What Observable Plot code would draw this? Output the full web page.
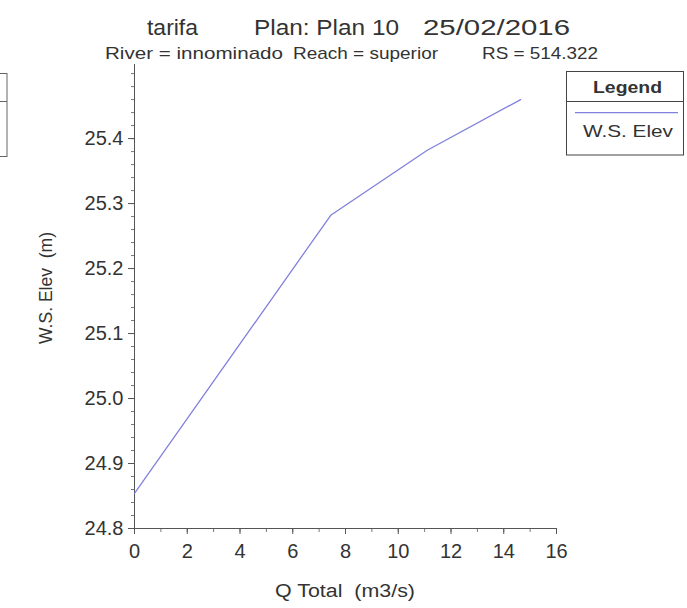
<!DOCTYPE html>
<html><head><meta charset="utf-8">
<script src="https://cdn.jsdelivr.net/npm/d3@7"></script>
<script src="https://cdn.jsdelivr.net/npm/@observablehq/plot@0.6"></script>
<style>
body{margin:0;background:#fff;font-family:"Liberation Sans",Arial,sans-serif;}
#wrap{position:relative;width:687px;height:608px;}
</style></head><body><div id="wrap"></div>
<script>
// Data
const qTotal = [0, 7.44, 11.1, 14.64];
const wsElev = [24.854, 25.282, 25.382, 25.46];
const xTicks = [0, 2, 4, 6, 8, 10, 12, 14, 16];
const yTicks = [24.8, 24.9, 25.0, 25.1, 25.2, 25.3, 25.4];
const titleParts = ["tarifa", "Plan: Plan 10", "25/02/2016"];
const subtitleParts = ["River = innominado", "Reach = superior", "RS = 514.322"];
const seriesName = "W.S. Elev";
const legendTitle = "Legend";
const xLabel = "Q Total  (m3/s)";
const yLabel = "W.S. Elev  (m)";

const data = qTotal.map((q, i) => ({q, ws: wsElev[i]}));
const yDomain = [24.8, 25.514];
const minorY = d3.ticks(24.8, 25.5, 35);
const minorX = d3.range(0, 17, 1);
const ink = "#333";
const axisInk = "#555";

const chart = Plot.plot({
  width: 687, height: 608,
  marginLeft: 134, marginRight: 131, marginTop: 64, marginBottom: 80,
  style: {fontFamily: '"Liberation Sans", Arial, sans-serif', fontSize: "20px", color: ink, background: "transparent"},
  x: {domain: [0, 16], label: null},
  y: {domain: yDomain, label: null},
  marks: [
    Plot.axisY(minorY, {tickSize: 3, text: null, stroke: "#777", label: null}),
    Plot.axisY(yTicks, {tickSize: 6, tickPadding: 5, tickFormat: d => d.toFixed(1), fontSize: 20, label: null, stroke: axisInk}),
    Plot.axisX(minorX, {tickSize: 4, text: null, stroke: "#777", label: null}),
    Plot.axisX(xTicks, {tickSize: 6, tickPadding: 9, fontSize: 20, label: null, stroke: axisInk}),
    Plot.ruleX([0], {stroke: axisInk}),
    Plot.ruleY([yDomain[0]], {stroke: axisInk}),
    Plot.line(data, {x: "q", y: "ws", stroke: "#8080dd", strokeWidth: 1.3})
  ]
});
document.getElementById("wrap").appendChild(chart);

const svg = d3.select(chart);
function txt(s, x, y, w, size, opts = {}) {
  const t = svg.append("text").attr("x", x).attr("y", y).text(s)
    .attr("font-size", size).attr("fill", ink)
    .attr("text-anchor", opts.anchor || "start")
    .attr("font-family", '"Liberation Sans", Arial, sans-serif');
  if (w) t.attr("textLength", w).attr("lengthAdjust", "spacingAndGlyphs");
  if (opts.weight) t.attr("font-weight", opts.weight);
  if (opts.transform) t.attr("transform", opts.transform);
  return t;
}
// Title & subtitle
const tPos = [[147, 51], [254, 145], [423, 147]];
titleParts.forEach((s, i) => txt(s, tPos[i][0], 35, tPos[i][1], 22));
const sPos = [[105, 178], [293, 145], [482, 116]];
subtitleParts.forEach((s, i) => txt(s, sPos[i][0], 59, sPos[i][1], 17));
// Axis labels
txt(xLabel, 275, 597, 140, 18);
txt(yLabel, 0, 0, 112, 18, {anchor: "middle", transform: "translate(52,288) rotate(-90)"});
// Legend box
svg.append("rect").attr("x", 566.5).attr("y", 71.5).attr("width", 117).attr("height", 83.5)
  .attr("fill", "#fff").attr("stroke", "#444");
svg.append("line").attr("x1", 566.5).attr("x2", 683.5).attr("y1", 101.5).attr("y2", 101.5).attr("stroke", "#444");
txt(legendTitle, 593, 93, 69, 17, {weight: "bold"});
svg.append("line").attr("x1", 575).attr("x2", 678).attr("y1", 112.7).attr("y2", 112.7)
  .attr("stroke", "#8080dd").attr("stroke-width", 1.3);
txt(seriesName, 583, 137, 90, 17);
// partial box at left edge (scan artifact)
svg.append("rect").attr("x", -2).attr("y", 73.5).attr("width", 9).attr("height", 83)
  .attr("fill", "none").attr("stroke", "#666");
svg.append("line").attr("x1", -2).attr("x2", 7).attr("y1", 101.5).attr("y2", 101.5).attr("stroke", "#666");
</script></body></html>
